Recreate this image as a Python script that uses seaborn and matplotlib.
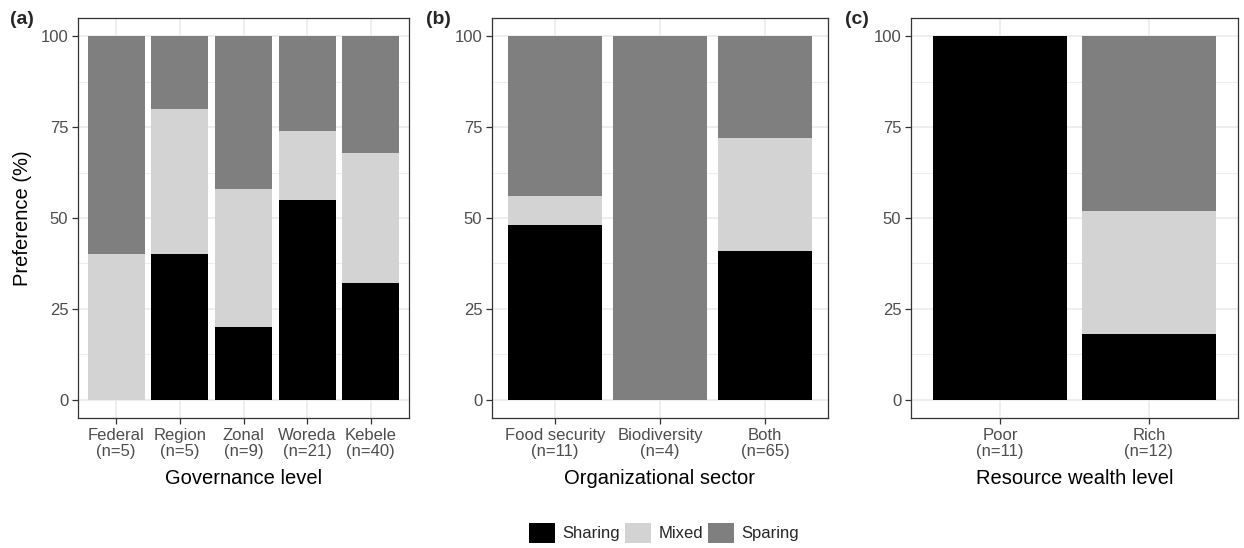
import matplotlib
matplotlib.use("Agg")
import matplotlib.pyplot as plt
from matplotlib.patches import Patch
from matplotlib.ticker import MultipleLocator
import pandas as pd
import seaborn as sns

# Data (percent of respondents)
gov_levels = ["Federal\n(n=5)", "Region\n(n=5)", "Zonal\n(n=9)", "Woreda\n(n=21)", "Kebele\n(n=40)"]
gov_sharing = [0, 40, 20, 55, 32]
gov_mixed = [40, 40, 38, 19, 36]
gov_sparing = [60, 20, 42, 26, 32]

sector_levels = ["Food security\n(n=11)", "Biodiversity\n(n=4)", "Both\n(n=65)"]
sector_sharing = [48, 0, 41]
sector_mixed = [8, 0, 31]
sector_sparing = [44, 100, 28]

wealth_levels = ["Poor\n(n=11)", "Rich\n(n=12)"]
wealth_sharing = [100, 18]
wealth_mixed = [0, 34]
wealth_sparing = [0, 48]

pref_names = ["Sharing", "Mixed", "Sparing"]
pref_colors = {"Sharing": "#000000", "Mixed": "#D3D3D3", "Sparing": "#7F7F7F"}

sns.set_theme(style="white")
plt.rcParams["font.family"] = ["Liberation Sans", "DejaVu Sans"]

W, H = 1244, 548
fig = plt.figure(figsize=(W / 100, H / 100), dpi=100)


def px_axes(x0, x1, y0, y1):
    return fig.add_axes([x0 / W, 1 - y1 / H, (x1 - x0) / W, (y1 - y0) / H])


def draw_panel(ax, cats, sharing, mixed, sparing, xlabel, tag, tag_x, ylabel=None):
    df = pd.DataFrame({"cat": cats, "Sharing": sharing, "Mixed": mixed, "Sparing": sparing})
    df["top_mixed"] = df["Sharing"] + df["Mixed"]
    df["top_sparing"] = df["top_mixed"] + df["Sparing"]

    # stacked bars: draw the tallest layer first
    for col, name in [("top_sparing", "Sparing"), ("top_mixed", "Mixed"), ("Sharing", "Sharing")]:
        sns.barplot(data=df, x="cat", y=col, order=cats, color=pref_colors[name],
                    saturation=1, width=0.9, ax=ax, zorder=3, linewidth=0)

    ax.set_xlim(-0.6, len(cats) - 0.4)
    ax.set_ylim(-5, 105)
    ax.yaxis.set_major_locator(MultipleLocator(25))
    ax.yaxis.set_minor_locator(MultipleLocator(12.5))
    ax.grid(True, which="major", color="#EBEBEB", linewidth=1.2, zorder=0)
    ax.grid(True, which="minor", axis="y", color="#EBEBEB", linewidth=0.6, zorder=0)
    ax.set_axisbelow(True)
    for s in ax.spines.values():
        s.set_visible(True)
        s.set_color("#333333")
        s.set_linewidth(0.9)
    ax.tick_params(axis="both", which="major", length=4.5, width=0.9, color="#333333",
                   labelsize=12, labelcolor="#4D4D4D", pad=2.5, bottom=True, left=True)
    ax.tick_params(axis="y", which="minor", length=0)
    ax.set_xlabel(xlabel, fontsize=14.5, color="black", labelpad=7)
    if ylabel:
        ax.set_ylabel(ylabel, fontsize=14.5, color="black", labelpad=6)
    else:
        ax.set_ylabel("")
    for lab in ax.get_xticklabels():
        lab.set_linespacing(1.1)
    fig.text(tag_x / W, 1 - 20 / H, tag, fontsize=14,
             fontweight="bold", ha="left", va="center")


ax1 = px_axes(78, 409, 18, 418)
ax2 = px_axes(492, 828, 18, 418)
ax3 = px_axes(911, 1238, 18, 418)

draw_panel(ax1, gov_levels, gov_sharing, gov_mixed, gov_sparing, "Governance level", "(a)", 10,
           ylabel="Preference (%)")
draw_panel(ax2, sector_levels, sector_sharing, sector_mixed, sector_sparing,
           "Organizational sector", "(b)", 426)
draw_panel(ax3, wealth_levels, wealth_sharing, wealth_mixed, wealth_sparing,
           "Resource wealth level", "(c)", 845)

handles = [Patch(facecolor=pref_colors[n], edgecolor="none", label=n) for n in pref_names]
fig.legend(handles=handles, loc="center", bbox_to_anchor=(664 / W, 1 - 533 / H), ncol=3,
           frameon=False, fontsize=12, handlelength=1.55, handleheight=1.55,
           handletextpad=0.45, columnspacing=0.3, borderaxespad=0)

fig.savefig("out.png", dpi=100)
